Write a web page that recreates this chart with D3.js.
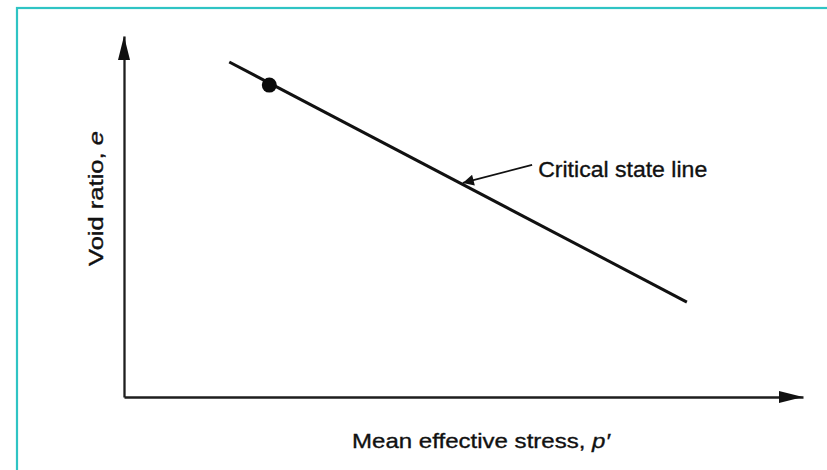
<!DOCTYPE html>
<html>
<head>
<meta charset="utf-8">
<script src="https://cdn.jsdelivr.net/npm/d3@7"></script>
<style>
  html, body { margin: 0; padding: 0; background: #fff; }
  svg { display: block; }
  text { font-family: "Liberation Sans", Arial, Helvetica, sans-serif; fill: #111; stroke: #111; stroke-width: 0.35px; }
</style>
</head>
<body>
<div class="chart"></div>
<script>
// schematic values (arbitrary units, no scale shown on the original)
var xDomain = [0, 10];
var yDomain = [0, 10];

// critical state line end points
var cslP = [1.55, 8.29];
var cslE = [9.28, 2.63];

// the single marked state
var pointP = [2.14];
var pointE = [8.64];

// annotation: label position and arrow from label to line
var noteText = "Critical state line";
var noteP = 6.10, noteE = 6.09;
var noteArrowP = [6.01, 4.99];
var noteArrowE = [6.43, 5.93];

var xLabel = "Mean effective stress, ";
var yLabel = "Void ratio, ";

var width = 827, height = 470;

var svg = d3.select(".chart")
    .append("svg")
    .attr("width", width)
    .attr("height", height);

// teal frame, only top and left edges fall inside the picture
svg.append("rect")
    .attr("x", 17)
    .attr("y", 8)
    .attr("width", 900)
    .attr("height", 600)
    .style("fill", "none")
    .style("stroke", "#2fc4c4")
    .style("stroke-width", 2.2);

var x = d3.scaleLinear().domain(xDomain).range([124, 803]);
var y = d3.scaleLinear().domain(yDomain).range([397, 36]);

var axisColor = "#1e1e1e";

var gx = svg.append("g")
    .attr("transform", "translate(0," + y(0) + ")")
    .call(d3.axisBottom(x).tickValues([]).tickSizeOuter(0));

var gy = svg.append("g")
    .attr("transform", "translate(" + x(0) + ",0)")
    .call(d3.axisLeft(y).tickValues([]).tickSizeOuter(0));

svg.selectAll(".domain")
    .style("stroke", axisColor)
    .style("stroke-width", 2.3);

// arrow heads at the axis ends
var headLen = 24, headHalf = 6;
var xEnd = x.range()[1], yEnd = y.range()[1];

svg.append("path")
    .attr("d", "M" + xEnd + "," + y(0) +
               "L" + (xEnd - headLen) + "," + (y(0) - headHalf) +
               "L" + (xEnd - headLen) + "," + (y(0) + headHalf) + "Z")
    .style("fill", "#111");

svg.append("path")
    .attr("d", "M" + x(0) + "," + yEnd +
               "L" + (x(0) - headHalf) + "," + (yEnd + headLen) +
               "L" + (x(0) + headHalf) + "," + (yEnd + headLen) + "Z")
    .style("fill", "#111");

// critical state line
var line = d3.line()
    .x(function(d) { return x(d[0]); })
    .y(function(d) { return y(d[1]); });

svg.append("path")
    .datum(d3.zip(cslP, cslE))
    .attr("d", line)
    .style("fill", "none")
    .style("stroke", "#111")
    .style("stroke-width", 3);

svg.selectAll(".pt")
    .data(d3.zip(pointP, pointE))
    .enter().append("circle")
    .attr("class", "pt")
    .attr("cx", function(d) { return x(d[0]); })
    .attr("cy", function(d) { return y(d[1]); })
    .attr("r", 7.5)
    .style("fill", "#0a0a0a");

// annotation arrow
svg.append("defs").append("marker")
    .attr("id", "note-head")
    .attr("viewBox", "0 0 10 10")
    .attr("refX", 10)
    .attr("refY", 5)
    .attr("markerUnits", "userSpaceOnUse")
    .attr("markerWidth", 24)
    .attr("markerHeight", 11)
    .attr("orient", "auto")
    .append("path")
    .attr("d", "M0,0L10,5L0,10Z")
    .style("fill", "#111");

svg.append("path")
    .datum(d3.zip(noteArrowP, noteArrowE))
    .attr("d", line)
    .attr("marker-end", "url(#note-head)")
    .style("fill", "none")
    .style("stroke", "#111")
    .style("stroke-width", 1.8);

svg.append("text")
    .attr("x", x(noteP))
    .attr("y", y(noteE))
    .attr("textLength", 169)
    .attr("lengthAdjust", "spacingAndGlyphs")
    .style("font-size", "22px")
    .text(noteText);

// axis titles
var xt = svg.append("text")
    .attr("x", 352)
    .attr("y", 448)
    .attr("textLength", 258)
    .attr("lengthAdjust", "spacingAndGlyphs")
    .style("font-size", "21px");
xt.append("tspan").text(xLabel);
xt.append("tspan").style("font-style", "italic").text("p\u2032");

var yt = svg.append("text")
    .attr("transform", "translate(103,266) rotate(-90)")
    .attr("textLength", 135)
    .attr("lengthAdjust", "spacingAndGlyphs")
    .style("font-size", "21px");
yt.append("tspan").text(yLabel);
yt.append("tspan").style("font-style", "italic").text("e");
</script>
</body>
</html>
